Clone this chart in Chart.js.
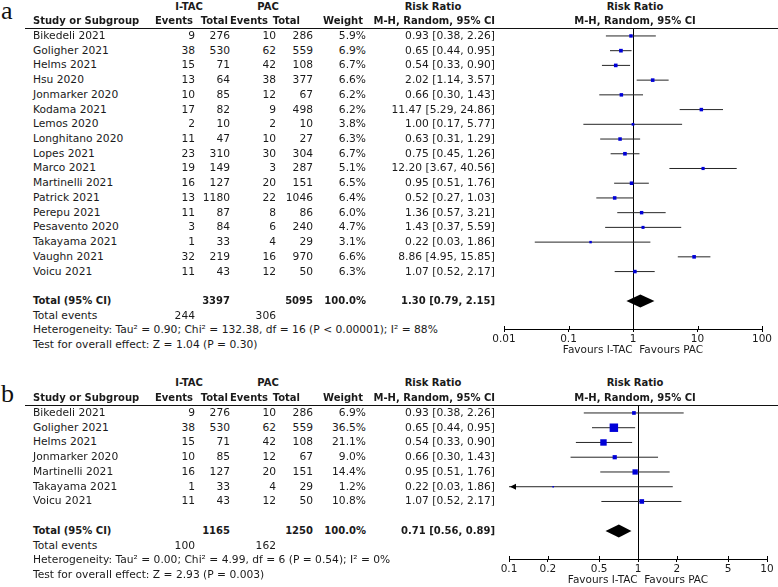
<!DOCTYPE html>
<html>
<head>
<meta charset="utf-8">
<script src="https://cdn.jsdelivr.net/npm/chart.js@4.4.0/dist/chart.umd.min.js"></script>
<style>
  html, body { margin: 0; padding: 0; background: #fff; width: 778px; height: 587px; overflow: hidden; }
  #wrap { position: relative; width: 778px; height: 587px; font-family: "DejaVu Sans", sans-serif; color: #1a1a1a; }
  .t { position: absolute; white-space: nowrap; line-height: 12px; font-size: 10.7px; transform: translateY(-50%); }
  .b { font-weight: bold; font-size: 10px; }
  .letter { position: absolute; left: 1px; font-family: "Liberation Serif", serif; font-size: 26px; line-height: 26px; color: #111; }
  .rule { position: absolute; left: 25px; right: 0; height: 0; border-top: 1px solid #111; }
  canvas { position: absolute; }
</style>
</head>
<body>
<div id="wrap">
  <div class="letter" style="top:-2px">a</div>
  <div class="letter" style="top:381px">b</div>
  <canvas id="forestA" width="308" height="337" style="left:470px;top:20px"></canvas>
  <canvas id="forestB" width="308" height="190" style="left:470px;top:397px"></canvas>
</div>
<script>
// ==================== DATA: PANEL A ====================
const studiesA = ["Bikedeli 2021", "Goligher 2021", "Helms 2021", "Hsu 2020", "Jonmarker 2020",
  "Kodama 2021", "Lemos 2020", "Longhitano 2020", "Lopes 2021", "Marco 2021", "Martinelli 2021",
  "Patrick 2021", "Perepu 2021", "Pesavento 2020", "Takayama 2021", "Vaughn 2021", "Voicu 2021"];
const itacEventsA = [9, 38, 15, 13, 10, 17, 2, 11, 23, 19, 16, 13, 11, 3, 1, 32, 11];
const itacTotalA = [276, 530, 71, 64, 85, 82, 10, 47, 310, 149, 127, 1180, 87, 84, 33, 219, 43];
const pacEventsA = [10, 62, 42, 38, 12, 9, 2, 10, 30, 3, 20, 22, 8, 6, 4, 16, 12];
const pacTotalA = [286, 559, 108, 377, 67, 498, 10, 27, 304, 287, 151, 1046, 86, 240, 29, 970, 50];
const weightA = [5.9, 6.9, 6.7, 6.6, 6.2, 6.2, 3.8, 6.3, 6.7, 5.1, 6.5, 6.4, 6.0, 4.7, 3.1, 6.6, 6.3];
const rrA = [0.93, 0.65, 0.54, 2.02, 0.66, 11.47, 1.00, 0.63, 0.75, 12.20, 0.95, 0.52, 1.36, 1.43, 0.22, 8.86, 1.07];
const lowA = [0.38, 0.44, 0.33, 1.14, 0.30, 5.29, 0.17, 0.31, 0.45, 3.67, 0.51, 0.27, 0.57, 0.37, 0.03, 4.95, 0.52];
const highA = [2.26, 0.95, 0.90, 3.57, 1.43, 24.86, 5.77, 1.29, 1.26, 40.56, 1.76, 1.03, 3.21, 5.59, 1.86, 15.85, 2.17];
const pooledA = [1.30, 0.79, 2.15];
const sumTotalsA = [3397, 5095];
const sumEventsA = [244, 306];
const hetA = "Heterogeneity: Tau² = 0.90; Chi² = 132.38, df = 16 (P < 0.00001); I² = 88%";
const testA = "Test for overall effect: Z = 1.04 (P = 0.30)";
const ticksA = [0.01, 0.1, 1, 10, 100];

// ==================== DATA: PANEL B ====================
const studiesB = ["Bikedeli 2021", "Goligher 2021", "Helms 2021", "Jonmarker 2020",
  "Martinelli 2021", "Takayama 2021", "Voicu 2021"];
const itacEventsB = [9, 38, 15, 10, 16, 1, 11];
const itacTotalB = [276, 530, 71, 85, 127, 33, 43];
const pacEventsB = [10, 62, 42, 12, 20, 4, 12];
const pacTotalB = [286, 559, 108, 67, 151, 29, 50];
const weightB = [6.9, 36.5, 21.1, 9.0, 14.4, 1.2, 10.8];
const rrB = [0.93, 0.65, 0.54, 0.66, 0.95, 0.22, 1.07];
const lowB = [0.38, 0.44, 0.33, 0.30, 0.51, 0.03, 0.52];
const highB = [2.26, 0.95, 0.90, 1.43, 1.76, 1.86, 2.17];
const pooledB = [0.71, 0.56, 0.89];
const sumTotalsB = [1165, 1250];
const sumEventsB = [100, 162];
const hetB = "Heterogeneity: Tau² = 0.00; Chi² = 4.99, df = 6 (P = 0.54); I² = 0%";
const testB = "Test for overall effect: Z = 2.93 (P = 0.003)";
const ticksB = [0.1, 0.2, 0.5, 1, 2, 5, 10];

// ==================== LAYOUT ====================
const FONT = { family: "DejaVu Sans", size: 10.5 };
const COL = { name: 33, ev1: 195, tot1: 230, ev2: 276, tot2: 313, wt: 366, ci: 495 };
const HEAD = { itac: 189, pac: 268, ev1: 193, tot1: 228, ev2: 268, tot2: 300, wt: 363, rrLeft: 433, rrRight: 635 };
const wrap = document.getElementById("wrap");

function put(text, x, y, align, bold) {
  const d = document.createElement("div");
  d.className = "t" + (bold ? " b" : "");
  d.textContent = text;
  if (align === "right") d.style.right = (778 - x) + "px";
  else d.style.left = x + "px";
  if (align === "center") d.style.transform = "translate(-50%,-50%)";
  d.style.top = y + "px";
  wrap.appendChild(d);
}

const fmt = (v) => v.toFixed(2);
const ciText = (est, lo, hi) => `${fmt(est)} [${fmt(lo)}, ${fmt(hi)}]`;

// ============== FOREST EXTRAS (ref line, diamond, arrows) ===============
const forestPlugin = {
  id: "forest",
  beforeDatasetsDraw(chart) {
    const { ctx, chartArea, scales: { x } } = chart;
    const px = Math.round(x.getPixelForValue(1)) + 0.5;
    ctx.save();
    ctx.strokeStyle = "#000";
    ctx.lineWidth = 1;
    ctx.beginPath();
    ctx.moveTo(px, chartArea.top);
    ctx.lineTo(px, chartArea.bottom);
    ctx.stroke();
    ctx.restore();
  },
  afterDatasetsDraw(chart, args, opts) {
    const { ctx, chartArea, scales: { x, y } } = chart;
    const [est, lo, hi] = opts.pooled;
    const yc = y.getPixelForValue(opts.pooledRow);
    ctx.save();
    ctx.fillStyle = "#000";
    ctx.beginPath();
    ctx.moveTo(x.getPixelForValue(lo), yc);
    ctx.lineTo(x.getPixelForValue(est), yc - 6.5);
    ctx.lineTo(x.getPixelForValue(hi), yc);
    ctx.lineTo(x.getPixelForValue(est), yc + 6.5);
    ctx.closePath();
    ctx.fill();
    // CIs running off the left of the axis get an arrow head
    for (let i = 0; i < opts.low.length; i++) {
      if (opts.low[i] >= x.min) continue;
      const yy = y.getPixelForValue(i);
      ctx.beginPath();
      ctx.moveTo(chartArea.left + 1, yy);
      ctx.lineTo(chartArea.left + 7, yy - 3);
      ctx.lineTo(chartArea.left + 7, yy + 3);
      ctx.closePath();
      ctx.fill();
    }
    // tick marks poke a little above the axis too
    ctx.strokeStyle = "#000";
    ctx.lineWidth = 1;
    x.ticks.forEach((t) => {
      const tx = Math.round(x.getPixelForValue(t.value)) + 0.5;
      ctx.beginPath();
      ctx.moveTo(tx, chartArea.bottom - 3);
      ctx.lineTo(tx, chartArea.bottom);
      ctx.stroke();
    });
    ctx.restore();
  },
};

// ============== BUILD ONE PANEL ===============
function buildPanel(canvasId, canvasTop, plotLeft, plotRight, p) {
  const n = p.studies.length;
  const whiskers = [];
  p.low.forEach((lo, i) => {
    whiskers.push({ x: lo, y: i }, { x: p.high[i], y: i }, { x: p.high[i], y: null });
  });

  const chart = new Chart(document.getElementById(canvasId), {
    type: "scatter",
    data: {
      datasets: [
        {
          data: p.rr.map((v, i) => ({ x: v, y: i })),
          pointStyle: "rect",
          pointRadius: (c) => (1.4 * Math.sqrt(p.weight[c.dataIndex])) / Math.SQRT2,
          pointBorderWidth: 0,
          backgroundColor: "#0000d8",
          borderColor: "#0000d8",
        },
        {
          data: whiskers,
          showLine: true,
          spanGaps: false,
          pointRadius: 0,
          borderColor: "#262626",
          borderWidth: 1,
        },
      ],
    },
    options: {
      responsive: false,
      animation: false,
      events: [],
      layout: { padding: { left: plotLeft - 470, right: 778 - plotRight, top: 8, bottom: 0 } },
      plugins: {
        legend: { display: false },
        tooltip: { enabled: false },
        forest: { pooled: p.pooled, pooledRow: n + 1, low: p.low },
      },
      scales: {
        y: { type: "linear", reverse: true, min: -0.54, max: n + 2.9, display: false },
        x: {
          type: "logarithmic",
          min: p.ticks[0],
          max: p.ticks[p.ticks.length - 1],
          afterBuildTicks: (s) => { s.ticks = p.ticks.map((v) => ({ value: v })); },
          afterFit: (s) => { s.height = 28; },
          border: { display: true, color: "#000", width: 1 },
          grid: { drawOnChartArea: false, drawTicks: true, tickLength: 3, color: "#000" },
          ticks: {
            color: "#1a1a1a", font: FONT, padding: 1, maxRotation: 0, autoSkip: false,
            callback: (v) => String(v),
          },
          title: {
            display: true, text: "Favours I-TAC  Favours PAC", color: "#1a1a1a",
            font: FONT, padding: { top: 0, bottom: 0 },
          },
        },
      },
    },
    plugins: [forestPlugin],
  });

  // ------ table text, placed on the chart's own row scale ------
  const yScale = chart.scales.y;
  const rowY = (r) => canvasTop + yScale.getPixelForValue(r);
  const rule = document.createElement("div");
  rule.className = "rule";
  rule.style.top = (canvasTop + chart.chartArea.top) + "px";
  wrap.appendChild(rule);

  put("I-TAC", HEAD.itac, rowY(-2), "center", true);
  put("PAC", HEAD.pac, rowY(-2), "center", true);
  put("Risk Ratio", HEAD.rrLeft, rowY(-2), "center", true);
  put("Risk Ratio", HEAD.rrRight, rowY(-2), "center", true);
  put("Study or Subgroup", COL.name, rowY(-1), "left", true);
  put("Events", HEAD.ev1, rowY(-1), "right", true);
  put("Total", HEAD.tot1, rowY(-1), "right", true);
  put("Events", HEAD.ev2, rowY(-1), "right", true);
  put("Total", HEAD.tot2, rowY(-1), "right", true);
  put("Weight", HEAD.wt, rowY(-1), "right", true);
  put("M-H, Random, 95% CI", COL.ci, rowY(-1), "right", true);
  put("M-H, Random, 95% CI", HEAD.rrRight, rowY(-1), "center", true);

  p.studies.forEach((name, i) => {
    const y = rowY(i);
    put(name, COL.name, y, "left");
    put(String(p.itacEvents[i]), COL.ev1, y, "right");
    put(String(p.itacTotal[i]), COL.tot1, y, "right");
    put(String(p.pacEvents[i]), COL.ev2, y, "right");
    put(String(p.pacTotal[i]), COL.tot2, y, "right");
    put(p.weight[i].toFixed(1) + "%", COL.wt, y, "right");
    put(ciText(p.rr[i], p.low[i], p.high[i]), COL.ci, y, "right");
  });

  let y = rowY(n + 1);
  put("Total (95% CI)", COL.name, y, "left", true);
  put(String(p.sumTotals[0]), COL.tot1, y, "right", true);
  put(String(p.sumTotals[1]), COL.tot2, y, "right", true);
  put("100.0%", COL.wt, y, "right", true);
  put(ciText(p.pooled[0], p.pooled[1], p.pooled[2]), COL.ci, y, "right", true);
  y = rowY(n + 2);
  put("Total events", COL.name, y, "left");
  put(String(p.sumEvents[0]), COL.ev1, y, "right");
  put(String(p.sumEvents[1]), COL.ev2, y, "right");
  put(p.het, COL.name, rowY(n + 3), "left");
  put(p.test, COL.name, rowY(n + 4), "left");
}

// =========== INIT ================
buildPanel("forestA", 20, 504, 762, {
  studies: studiesA, itacEvents: itacEventsA, itacTotal: itacTotalA, pacEvents: pacEventsA,
  pacTotal: pacTotalA, weight: weightA, rr: rrA, low: lowA, high: highA, pooled: pooledA,
  sumTotals: sumTotalsA, sumEvents: sumEventsA, het: hetA, test: testA, ticks: ticksA,
});
buildPanel("forestB", 397, 509, 767, {
  studies: studiesB, itacEvents: itacEventsB, itacTotal: itacTotalB, pacEvents: pacEventsB,
  pacTotal: pacTotalB, weight: weightB, rr: rrB, low: lowB, high: highB, pooled: pooledB,
  sumTotals: sumTotalsB, sumEvents: sumEventsB, het: hetB, test: testB, ticks: ticksB,
});
</script>
</body>
</html>
